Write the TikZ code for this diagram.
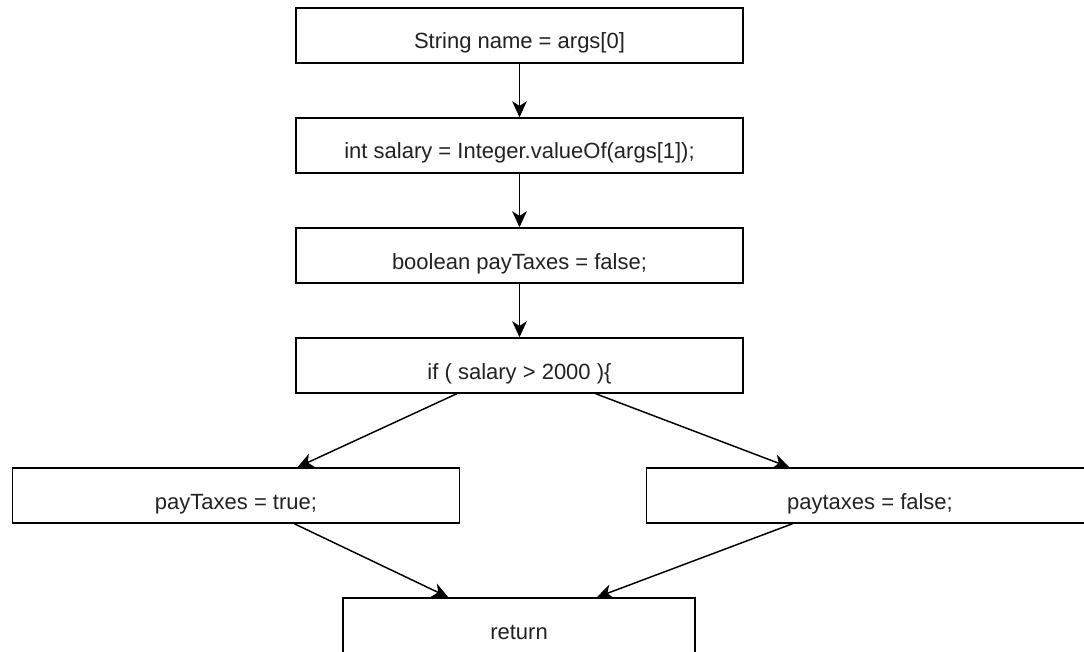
\documentclass[tikz,border=0pt]{standalone}
\usepackage{fontspec}
\setmainfont{Liberation Sans}
\usetikzlibrary{arrows.meta,calc}
\definecolor{txt}{HTML}{222222}
\begin{document}
\begin{tikzpicture}[x=0.75pt,y=-0.75pt,
  box/.style={draw=black,line width=1.1pt,rectangle,inner sep=0pt,
    minimum height=41.25pt,text height=24pt,text depth=3.75pt,
    font=\fontsize{16.5pt}{20pt}\selectfont,text=txt},
  wide/.style={minimum width=335pt},
  narrow/.style={minimum width=264pt},
  conn/.style={draw=black,line width=1.1pt,-{Stealth[length=12pt,width=11pt,inset=3.5pt]}}]
\useasboundingbox (0,0) rectangle (1084,652);
\fill[white] (0,0) rectangle (1084,652);
\clip (0,0) rectangle (1084,652);
\node[box,wide] (b1) at (519.5,35.5) {String name = args[0]};
\node[box,wide] (b2) at (519.5,145.5) {int salary = Integer.valueOf(args[1]);};
\node[box,wide] (b3) at (519.5,255.5) {boolean payTaxes = false;};
\node[box,wide] (b4) at (519.5,365.5) {if ( salary > 2000 )\{};
\node[box,wide] (bl) at (236,495.5) {payTaxes = true;};
\node[box,wide] (br) at (870,495.5) {paytaxes = false;};
\node[box,narrow] (ret) at (519,625.5) {return};
\draw[conn] (b1) -- (b2);
\draw[conn] (b2) -- (b3);
\draw[conn] (b3) -- (b4);
\draw[conn] ($(b4.south west)!0.36!(b4.south east)$) -- ($(bl.north west)!0.637!(bl.north east)$);
\draw[conn] ($(b4.south west)!0.67!(b4.south east)$) -- ($(br.north west)!0.32!(br.north east)$);
\draw[conn] ($(bl.south west)!0.63!(bl.south east)$) -- ($(ret.north west)!0.30!(ret.north east)$);
\draw[conn] ($(br.south west)!0.327!(br.south east)$) -- ($(ret.north west)!0.72!(ret.north east)$);
\end{tikzpicture}
\end{document}
